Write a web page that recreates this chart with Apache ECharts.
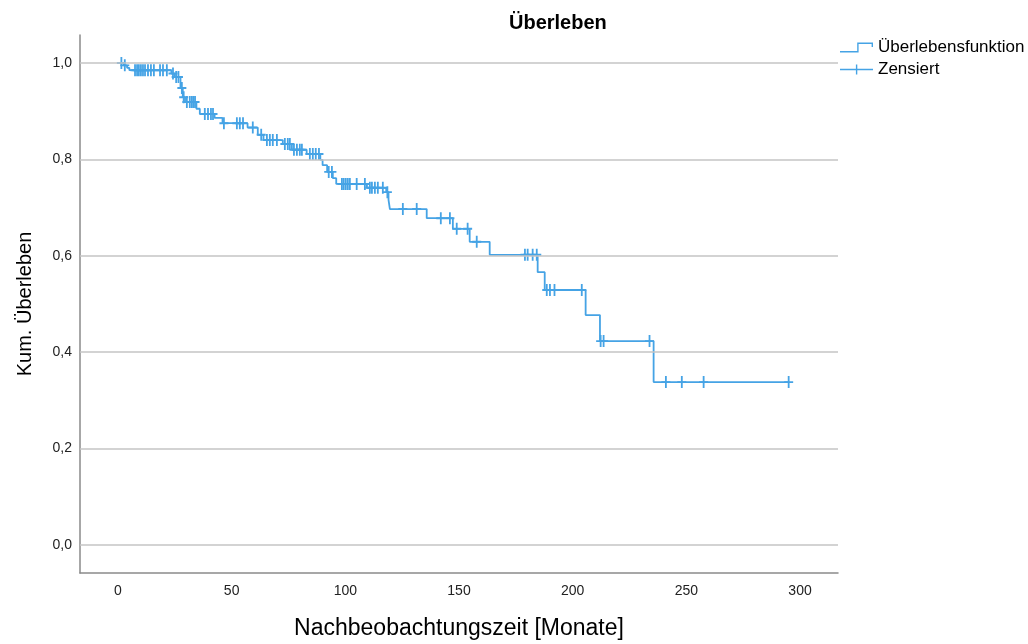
<!DOCTYPE html>
<html><head><meta charset="utf-8">
<script src="https://cdn.jsdelivr.net/npm/echarts@6/dist/echarts.min.js"></script>
<style>html,body{margin:0;padding:0;background:#fff}#c{width:1028px;height:644px}</style>
</head><body><div id="c"></div>
<script>
// Kaplan-Meier step points: time of drop (months) and survival after drop
const stepTimes = [0, 2.5, 4, 5, 23.5, 25, 27.5, 28.5, 29.5, 34.5, 36, 42.5, 46, 57, 61.5, 64, 72.5, 76.5, 83, 89, 90, 92, 94.5, 96, 109.5, 118, 119, 119.6, 135.8, 147.3, 154.7, 163.5, 184.6, 187.7, 205.7, 212, 235.6, 295];
const stepSurv = [1.0, 0.995, 0.99, 0.985, 0.978, 0.971, 0.948, 0.929, 0.919, 0.905, 0.894, 0.886, 0.875, 0.866, 0.851, 0.840, 0.832, 0.820, 0.811, 0.799, 0.788, 0.774, 0.761, 0.749, 0.741, 0.732, 0.716, 0.697, 0.678, 0.656, 0.629, 0.602, 0.566, 0.529, 0.477, 0.423, 0.338, 0.338];
// Censored observations
const censorTimes = [1.5, 3, 7.5, 8.4, 9.2, 10.1, 11, 11.9, 13.2, 14.5, 15.8, 18.5, 19.8, 21.5, 24.2, 25.6, 26.6, 28.1, 28.9, 30.3, 31.6, 32.5, 33.2, 33.9, 38.2, 39.6, 40.9, 41.8, 46.6, 52.3, 53.6, 55, 59.3, 63, 65.5, 66.8, 68.1, 69.9, 73.4, 74.7, 75.6, 77.4, 78.7, 80, 80.9, 84.4, 85.7, 87, 88.4, 92.7, 94.1, 98.5, 99.3, 100.2, 101.1, 102, 105, 108.6, 110.8, 111.7, 113, 114.3, 116.5, 118.5, 125.3, 131.4, 142, 146, 149, 153.8, 157.8, 179, 180.2, 182.4, 184.2, 188.6, 190, 192, 204, 212.3, 213.6, 233.8, 241, 248, 257.6, 295];
const censorSurv = [1.0, 0.995, 0.985, 0.985, 0.985, 0.985, 0.985, 0.985, 0.985, 0.985, 0.985, 0.985, 0.985, 0.985, 0.978, 0.971, 0.971, 0.948, 0.929, 0.919, 0.919, 0.919, 0.919, 0.919, 0.894, 0.894, 0.894, 0.894, 0.875, 0.875, 0.875, 0.875, 0.866, 0.851, 0.840, 0.840, 0.840, 0.840, 0.832, 0.832, 0.832, 0.820, 0.820, 0.820, 0.820, 0.811, 0.811, 0.811, 0.811, 0.774, 0.774, 0.749, 0.749, 0.749, 0.749, 0.749, 0.749, 0.749, 0.741, 0.741, 0.741, 0.741, 0.741, 0.732, 0.697, 0.697, 0.678, 0.678, 0.656, 0.656, 0.629, 0.602, 0.602, 0.602, 0.602, 0.529, 0.529, 0.529, 0.529, 0.423, 0.423, 0.423, 0.338, 0.338, 0.338, 0.338];
const xTicks = [0, 50, 100, 150, 200, 250, 300];
const yTicks = [0, 0.2, 0.4, 0.6, 0.8, 1.0];
const seriesNames = ['Überlebensfunktion', 'Zensiert'];

const COLOR = '#45a3e5';
const FONT = 'Liberation Sans';
const plusSymbol = 'path://M0,0.42 H1 V0.58 H0 Z M0.4,0 H0.6 V1 H0.4 Z';
const stepIcon = 'path://M0,8.6 H17.2 V0 H33 V4.6 H31.6 V1.4 H18.6 V10 H0 Z';
const plusIcon = 'path://M0,4.3 H33 V5.7 H0 Z M15.9,0 H17.3 V10 H15.9 Z';

const chart = echarts.init(document.getElementById('c'), null, {renderer: 'canvas'});
chart.setOption({
  animation: false,
  backgroundColor: '#fff',
  textStyle: {fontFamily: FONT},
  title: {
    text: 'Überleben', left: 504, top: 8,
    textStyle: {fontFamily: FONT, fontSize: 20, fontWeight: 'bold', color: '#000'}
  },
  legend: {
    orient: 'vertical', left: 840, top: 39, itemWidth: 33, itemHeight: 10, itemGap: 5, padding: 0,
    textStyle: {fontFamily: FONT, fontSize: 17, color: '#000'},
    data: [{name: seriesNames[0], icon: stepIcon}, {name: seriesNames[1], icon: plusIcon}]
  },
  grid: {left: 80, right: 190, top: 35, bottom: 71, containLabel: false, outerBoundsMode: 'none'},
  xAxis: {
    type: 'value', min: -16.7, max: 316.7,
    axisLine: {show: true, onZero: false, lineStyle: {color: '#8a8a8a', width: 1.5}},
    axisTick: {show: false}, splitLine: {show: false},
    axisLabel: {customValues: xTicks, fontFamily: FONT, fontSize: 14, color: '#222', margin: 11},
    name: 'Nachbeobachtungszeit [Monate]', nameLocation: 'middle', nameGap: 44,
    nameTextStyle: {fontFamily: FONT, fontSize: 23, color: '#000'}
  },
  yAxis: {
    type: 'value', min: -0.058, max: 1.058,
    axisLine: {show: true, onZero: false, lineStyle: {color: '#8a8a8a', width: 1.5}},
    axisTick: {show: false}, splitLine: {show: false},
    axisLabel: {customValues: yTicks, fontFamily: FONT, fontSize: 14, color: '#222', margin: 8,
      formatter: v => v.toFixed(1).replace('.', ',')},
    name: 'Kum. Überleben', nameLocation: 'middle', nameGap: 45,
    nameTextStyle: {fontFamily: FONT, fontSize: 20, color: '#000'}
  },
  series: [
    {
      type: 'line', name: '_grid', data: [], z: 1, silent: true,
      markLine: {
        silent: true, symbol: ['none', 'none'], label: {show: false},
        lineStyle: {color: '#c4c4c4', width: 1.5, type: 'solid'},
        emphasis: {disabled: true},
        data: yTicks.map(v => ({yAxis: v}))
      }
    },
    {
      type: 'line', name: seriesNames[0], step: 'end', z: 3,
      showSymbol: false, symbol: 'none',
      color: COLOR,
      lineStyle: {color: COLOR, width: 1.8},
      data: stepTimes.map((t, i) => [t, stepSurv[i]])
    },
    {
      type: 'scatter', name: seriesNames[1], z: 4,
      symbol: plusSymbol, symbolSize: [9, 12],
      itemStyle: {color: COLOR, opacity: 1},
      data: censorTimes.map((t, i) => [t, censorSurv[i]])
    }
  ]
});
</script>
</body></html>
